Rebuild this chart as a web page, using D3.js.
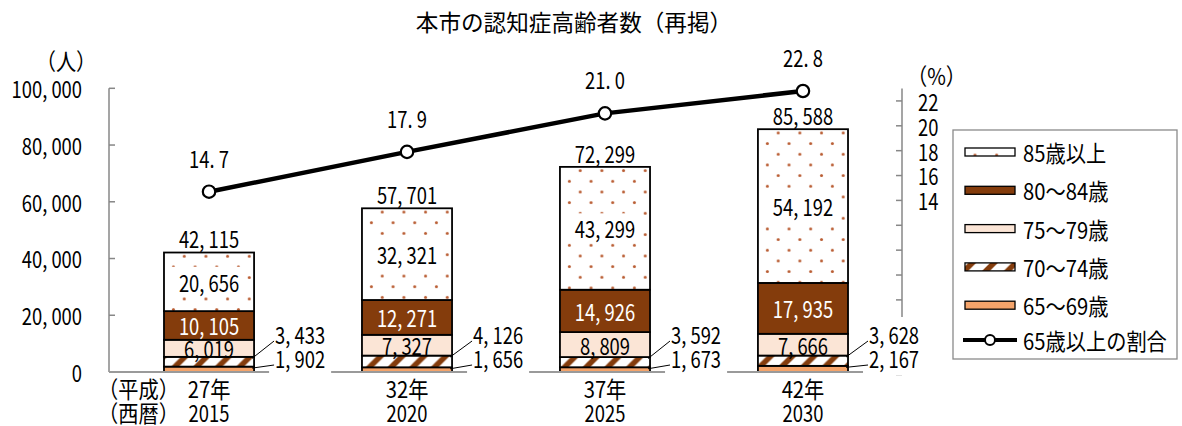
<!DOCTYPE html>
<html>
<head>
<meta charset="utf-8">
<script src="https://cdn.jsdelivr.net/npm/d3@7"></script>
<style>
  body { margin: 0; background: #fff; }
  svg { display: block; }
  text { font-family: "Noto Sans CJK JP", "Noto Sans", sans-serif; }
</style>
</head>
<body>
<svg id="chart" width="1182" height="426"></svg>
<script>
// ---- data ----
const years = ["2015", "2020", "2025", "2030"];
const eraYears = ["27年", "32年", "37年", "42年"];
const age65to69 = [1902, 1656, 1673, 2167];
const age70to74 = [3433, 4126, 3592, 3628];
const age75to79 = [6019, 7327, 8809, 7666];
const age80to84 = [10105, 12271, 14926, 17935];
const age85plus = [20656, 32321, 43299, 54192];
const elderlyShare = [14.7, 17.9, 21.0, 22.8];
const leftTicks = [0, 20000, 40000, 60000, 80000, 100000];
const rightTicks = [0, 2, 4, 6, 8, 10, 12, 14, 16, 18, 20, 22];
const rightTickLabels = [14, 16, 18, 20, 22];
const seriesNames = ["65～69歳", "70～74歳", "75～79歳", "80～84歳", "85歳以上"];
const lineName = "65歳以上の割合";
const titleText = "本市の認知症高齢者数（再掲）";

// ---- setup ----
const svg = d3.select("#chart");
const FS = 23;
const SX_NUM = 0.8;   // narrow digits
const SX_CJK = 0.88;  // narrow kana/kanji

const x = d3.scaleBand().domain(years).range([110, 902]).paddingInner(0.545).paddingOuter(0.2727);
const yL = d3.scaleLinear().domain([0, 100000]).range([372, 88.3]);
const yR = d3.scaleLinear().domain([0, 23]).range([374.5, 88.5]);

const fmtInt = v => d3.format(",")(v).replace(/,/g, ", ");
const fmtPct = v => d3.format(".1f")(v).replace(".", ". ");

function txt(g, px, py, s, anchor = "middle", fill = "#000") {
  const sx = /[^\x00-\x7F]/.test(s) ? SX_CJK : SX_NUM;
  const t = g.append("text")
    .attr("transform", `translate(${px},${py}) scale(${sx},1)`)
    .attr("text-anchor", anchor)
    .attr("dominant-baseline", "central")
    .attr("font-size", FS)
    .attr("fill", fill)
    .text(s);
  t.datum({ sx });
  return t;
}
const txtWidth = t => t.node().getBBox().width * t.datum().sx;

const series = [
  { name: seriesNames[0], values: age65to69, fill: "#F4A46B" },
  { name: seriesNames[1], values: age70to74, fill: "url(#stripes)" },
  { name: seriesNames[2], values: age75to79, fill: "#FBE5D6" },
  { name: seriesNames[3], values: age80to84, fill: "#843C0C" },
  { name: seriesNames[4], values: age85plus, fill: null }
];

// cumulative stacks
const stacks = years.map((yr, j) => {
  let c = 0;
  return series.map(s => { const lo = c; c += s.values[j]; return { lo, hi: c, v: s.values[j] }; });
});
const totals = stacks.map(st => st[st.length - 1].hi);

// ---- patterns ----
const defs = svg.append("defs");
const step = 21.67;
const stripes = defs.append("pattern").attr("id", "stripes")
  .attr("patternUnits", "userSpaceOnUse").attr("width", step).attr("height", step);
stripes.append("rect").attr("width", step).attr("height", step).attr("fill", "#fff");
stripes.append("path")
  .attr("d", `M${-step/4},${step/4}L${step/4},${-step/4}M0,${step}L${step},0M${3*step/4},${5*step/4}L${5*step/4},${3*step/4}`)
  .attr("stroke", "#843C0C").attr("stroke-width", 5.5);

function dotPattern(id, ox, oy) {
  const p = defs.append("pattern").attr("id", id)
    .attr("patternUnits", "userSpaceOnUse")
    .attr("x", ox - 5.4).attr("y", oy - 5.3)
    .attr("width", step).attr("height", 21.33);
  p.append("rect").attr("width", step).attr("height", 21.33).attr("fill", "#fff");
  p.append("circle").attr("cx", 5.4).attr("cy", 5.3).attr("r", 1.5).attr("fill", "#B95C32");
  p.append("circle").attr("cx", 5.4 + step / 2).attr("cy", 5.3 + 10.67).attr("r", 1.5).attr("fill", "#B95C32");
}
years.forEach((yr, j) => dotPattern("dots" + j, x(yr) - 1.4, yL(totals[j]) + 3.7));
dotPattern("dotsLegend", 975, 155);

// ---- bars ----
const barG = svg.append("g");
series.forEach((s, i) => {
  years.forEach((yr, j) => {
    const st = stacks[j][i];
    barG.append("rect")
      .attr("x", x(yr)).attr("width", x.bandwidth())
      .attr("y", yL(st.hi)).attr("height", yL(st.lo) - yL(st.hi))
      .attr("fill", s.fill || `url(#dots${j})`)
      .attr("stroke", "#000").attr("stroke-width", 1.8);
  });
  // labels inside the larger segments
  if (i >= 2) {
    years.forEach((yr, j) => {
      const st = stacks[j][i];
      const cx = x(yr) + x.bandwidth() / 2, cy = (yL(st.lo) + yL(st.hi)) / 2;
      const boxG = barG.append("g");
      const t = txt(barG, cx, cy, fmtInt(st.v), "middle", i === 3 ? "#fff" : "#000");
      if (i === 4) {
        const w = txtWidth(t);
        boxG.append("rect").attr("x", cx - w / 2 - 8).attr("width", w + 16)
          .attr("y", cy - 15).attr("height", 30).attr("fill", "#fff");
      }
    });
  }
});

// ---- axes ----
const axG = svg.append("g");
axG.append("line").attr("x1", 109).attr("x2", 109).attr("y1", yL(100000)).attr("y2", yL(0))
  .attr("stroke", "#878787").attr("stroke-width", 1.5);
leftTicks.forEach(v => {
  axG.append("line").attr("x1", 109).attr("x2", 115).attr("y1", yL(v)).attr("y2", yL(v))
    .attr("stroke", "#878787").attr("stroke-width", 1.5);
  txt(axG, 82, yL(v), fmtInt(v), "end");
});
txt(axG, 66, 60, "（人）", "middle");

axG.append("line").attr("x1", 902).attr("x2", 902).attr("y1", yR(23)).attr("y2", yR(0))
  .attr("stroke", "#878787").attr("stroke-width", 1.5);
rightTicks.forEach(v => {
  axG.append("line").attr("x1", 896).attr("x2", 902).attr("y1", yR(v)).attr("y2", yR(v))
    .attr("stroke", "#878787").attr("stroke-width", 1.5);
});
rightTickLabels.forEach(v => txt(axG, 918, yR(v), String(v), "start"));
txt(axG, 907, 75, "（%）", "start");

// baseline
axG.append("line").attr("x1", 109).attr("x2", 902).attr("y1", yL(0)).attr("y2", yL(0))
  .attr("stroke", "#9a9a9a").attr("stroke-width", 2);

// category labels
const catG = svg.append("g");
txt(catG, 179, 388, "（平成）", "end");
txt(catG, 179, 412, "（西暦）", "end");
years.forEach((yr, j) => {
  const cx = x(yr) + x.bandwidth() / 2;
  txt(catG, cx, 388, eraYears[j]);
  txt(catG, cx, 412, yr);
});

// ---- small-segment labels outside the bars ----
const outG = svg.append("g");
const boxLayer = outG.append("g"), leadLayer = outG.append("g"), textLayer = outG.append("g");
years.forEach((yr, j) => {
  const right = x(yr) + x.bandwidth();
  const tx = right + 21;
  [[1, yL(0) - 38], [0, yL(0) - 14]].forEach(([i, ly]) => {
    const st = stacks[j][i];
    const t = txt(textLayer, tx, ly, fmtInt(st.v), "start");
    const w = txtWidth(t);
    boxLayer.append("rect").attr("x", tx - 6).attr("width", w + 12)
      .attr("y", ly - 17).attr("height", 34).attr("fill", "#fff");
    leadLayer.append("line").attr("x1", tx - 1).attr("y1", ly + 7)
      .attr("x2", right - 2).attr("y2", yL(st.hi) + 1.5)
      .attr("stroke", "#000").attr("stroke-width", 1);
  });
});

// totals above bars
years.forEach((yr, j) => {
  txt(outG, x(yr) + x.bandwidth() / 2, yL(totals[j]) - 14, fmtInt(totals[j]));
});

// ---- share line ----
const lineG = svg.append("g");
const pts = years.map((yr, j) => [x(yr) + x.bandwidth() / 2, yR(elderlyShare[j])]);
lineG.append("path").attr("d", d3.line()(pts))
  .attr("fill", "none").attr("stroke", "#000").attr("stroke-width", 4.5).attr("stroke-linejoin", "round");
pts.forEach((p, j) => {
  lineG.append("circle").attr("cx", p[0]).attr("cy", p[1]).attr("r", 6.2)
    .attr("fill", "#fff").attr("stroke", "#000").attr("stroke-width", 2.2);
  txt(lineG, p[0], p[1] - 34, fmtPct(elderlyShare[j]));
});

// ---- title ----
svg.append("text").attr("x", 574).attr("y", 21)
  .attr("text-anchor", "middle").attr("dominant-baseline", "central")
  .attr("font-size", 22.6).attr("fill", "#000").text(titleText);

// ---- legend ----
const lg = svg.append("g");
lg.append("rect").attr("x", 953).attr("y", 130).attr("width", 224).attr("height", 229)
  .attr("fill", "#fff").attr("stroke", "#8a8a8a").attr("stroke-width", 1.3);
const legendOrder = [4, 3, 2, 1, 0];
legendOrder.forEach((i, k) => {
  const ry = 152 + k * 38.3;
  lg.append("rect").attr("x", 965).attr("y", ry - 4).attr("width", 50).attr("height", 8)
    .attr("fill", series[i].fill || "url(#dotsLegend)")
    .attr("stroke", "#000").attr("stroke-width", 1.3);
  txt(lg, 1023, ry, series[i].name, "start");
});
lg.append("line").attr("x1", 963).attr("x2", 1017).attr("y1", 340).attr("y2", 340)
  .attr("stroke", "#000").attr("stroke-width", 4);
lg.append("circle").attr("cx", 990).attr("cy", 340).attr("r", 5)
  .attr("fill", "#fff").attr("stroke", "#000").attr("stroke-width", 2);
txt(lg, 1023, 340, lineName, "start");
</script>
</body>
</html>
